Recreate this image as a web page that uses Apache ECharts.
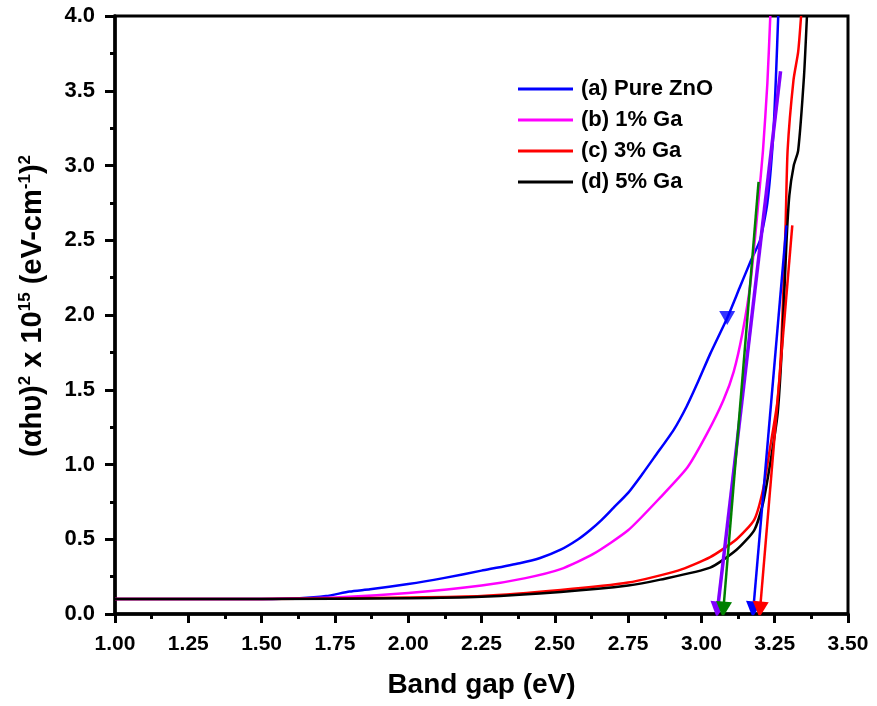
<!DOCTYPE html>
<html>
<head>
<meta charset="utf-8">
<script src="https://cdn.jsdelivr.net/npm/echarts@6/dist/echarts.min.js"></script>
<style>html,body{margin:0;padding:0;background:#fff}#c{width:877px;height:706px}</style>
</head>
<body>
<div id="c"></div>
<script>
// ---- data (x = band gap eV, y = (αhυ)^2 x 10^15) ----
var seriesNames = ['(a) Pure ZnO', '(b) 1% Ga', '(c) 3% Ga', '(d) 5% Ga'];
var pureZnO = [[1.00,0.10],[1.25,0.10],[1.50,0.10],[1.63,0.105],[1.72,0.12],[1.80,0.15],[1.87,0.165],[2.00,0.20],[2.12,0.24],[2.25,0.29],[2.38,0.34],[2.45,0.375],[2.52,0.43],[2.58,0.50],[2.62,0.56],[2.66,0.63],[2.70,0.71],[2.75,0.81],[2.80,0.94],[2.84,1.05],[2.905,1.23],[2.95,1.39],[2.99,1.56],[3.03,1.74],[3.088,1.98],[3.13,2.18],[3.17,2.37],[3.20,2.50],[3.225,2.75],[3.245,3.20],[3.255,3.63],[3.262,4.00]];
var ga1 = [[1.00,0.10],[1.50,0.10],[1.75,0.11],[2.00,0.14],[2.25,0.19],[2.40,0.24],[2.52,0.30],[2.63,0.40],[2.75,0.56],[2.86,0.78],[2.952,0.98],[3.02,1.21],[3.075,1.43],[3.11,1.62],[3.14,1.88],[3.167,2.21],[3.195,2.77],[3.21,3.10],[3.225,3.55],[3.235,4.00]];
var ga3 = [[1.00,0.10],[1.50,0.10],[2.00,0.11],[2.25,0.12],[2.52,0.16],[2.75,0.21],[2.92,0.29],[3.03,0.38],[3.12,0.50],[3.18,0.63],[3.21,0.83],[3.235,1.12],[3.26,1.43],[3.272,1.77],[3.287,2.59],[3.294,3.10],[3.314,3.57],[3.33,3.76],[3.34,4.00]];
var ga5 = [[1.00,0.10],[1.50,0.10],[2.00,0.105],[2.25,0.115],[2.52,0.147],[2.75,0.19],[2.86,0.23],[3.03,0.31],[3.12,0.43],[3.18,0.56],[3.21,0.74],[3.235,1.01],[3.26,1.34],[3.275,1.80],[3.29,2.48],[3.30,2.80],[3.315,3.00],[3.33,3.10],[3.35,3.60],[3.36,4.00]];
// tangent (extrapolation) lines: [start, end(arrow)]
var tangentPurple = [[3.27,3.63],[3.055,0.03]];
var tangentGreen  = [[3.195,2.89],[3.075,0.03]];
var tangentBlue   = [[3.29,2.60],[3.177,0.03]];
var tangentRed    = [[3.31,2.60],[3.20,0.03]];
var markerPoint   = [[3.088,1.98]];
var xTicks = {min:1.00, max:3.50, interval:0.25};
var yTicks = {min:0, max:4.0, interval:0.5};

var FONT = 'Arial, "Liberation Sans", sans-serif';
var chart = echarts.init(document.getElementById('c'), null, {renderer:'canvas'});

function curve(name, data, color){
  return {name:name, type:'line', data:data, symbol:'none', smooth:0.2, z:3,
    lineStyle:{color:color, width:2.5, join:'round'}, itemStyle:{color:color}};
}
function tangent(data, color, w){
  return {type:'lines', coordinateSystem:'cartesian2d', z:4,
    symbol:['none','triangle'], symbolSize:[10,16],
    lineStyle:{color:color, width:w, opacity:1},
    data:[{coords:data}]};
}

var option = {
  animation:false,
  backgroundColor:'#fff',
  grid:{left:115, right:29, top:16, bottom:92, show:true, borderColor:'#000', borderWidth:3},
  legend:{
    data:seriesNames, orient:'vertical', left:513, top:73,
    icon:'rect', symbolKeepAspect:false,
    itemWidth:55, itemHeight:3, itemGap:9,
    textStyle:{fontFamily:FONT, fontWeight:'bold', fontSize:22, color:'#000', lineHeight:22, padding:[0,0,0,3]}
  },
  xAxis:{
    type:'value', min:xTicks.min, max:xTicks.max, interval:xTicks.interval,
    name:'Band gap (eV)', nameLocation:'middle', nameGap:57,
    nameTextStyle:{fontFamily:FONT, fontWeight:'bold', fontSize:28, color:'#000'},
    axisLine:{lineStyle:{color:'#000', width:3.5}},
    axisTick:{show:true, inside:false, length:9, lineStyle:{color:'#000', width:3}},
    minorTick:{show:true, splitNumber:2, length:5, lineStyle:{color:'#000', width:3}},
    splitLine:{show:false},
    axisLabel:{fontFamily:FONT, fontWeight:'bold', fontSize:21, color:'#000', margin:20,
      formatter:function(v){return v.toFixed(2);}}
  },
  yAxis:{
    type:'value', min:yTicks.min, max:yTicks.max, interval:yTicks.interval,
    name:'(αhυ){sup|2} x 10{sup|15} (eV-cm{sup|-1}){sup|2}', nameLocation:'middle', nameGap:66, nameRotate:90,
    nameTextStyle:{fontFamily:FONT, fontWeight:'bold', fontSize:29, color:'#000', padding:[0,0,0,18],
      rich:{sup:{fontFamily:FONT, fontWeight:'bold', fontSize:17, color:'#000', verticalAlign:'top', padding:[0,0,15,0]}}},
    axisLine:{lineStyle:{color:'#000', width:3.5}},
    axisTick:{show:true, inside:false, length:10, lineStyle:{color:'#000', width:3}},
    minorTick:{show:true, splitNumber:2, length:5, lineStyle:{color:'#000', width:3}},
    splitLine:{show:false},
    axisLabel:{fontFamily:FONT, fontWeight:'bold', fontSize:22, color:'#000', margin:20,
      formatter:function(v){return v.toFixed(1);}}
  },
  series:[
    curve(seriesNames[0], pureZnO, '#0000ff'),
    curve(seriesNames[1], ga1, '#ff00ff'),
    curve(seriesNames[2], ga3, '#ff0000'),
    curve(seriesNames[3], ga5, '#000000'),
    tangent(tangentPurple, '#8000ff', 3.5),
    tangent(tangentGreen, '#008000', 2.5),
    tangent(tangentBlue, '#0000ff', 2.5),
    tangent(tangentRed, '#ff0000', 2.5),
    {type:'scatter', data:markerPoint, symbol:'triangle', symbolRotate:180, symbolSize:[16,14], z:5,
      itemStyle:{color:'#0000ff'}}
  ]
};
chart.setOption(option);
</script>
</body>
</html>
